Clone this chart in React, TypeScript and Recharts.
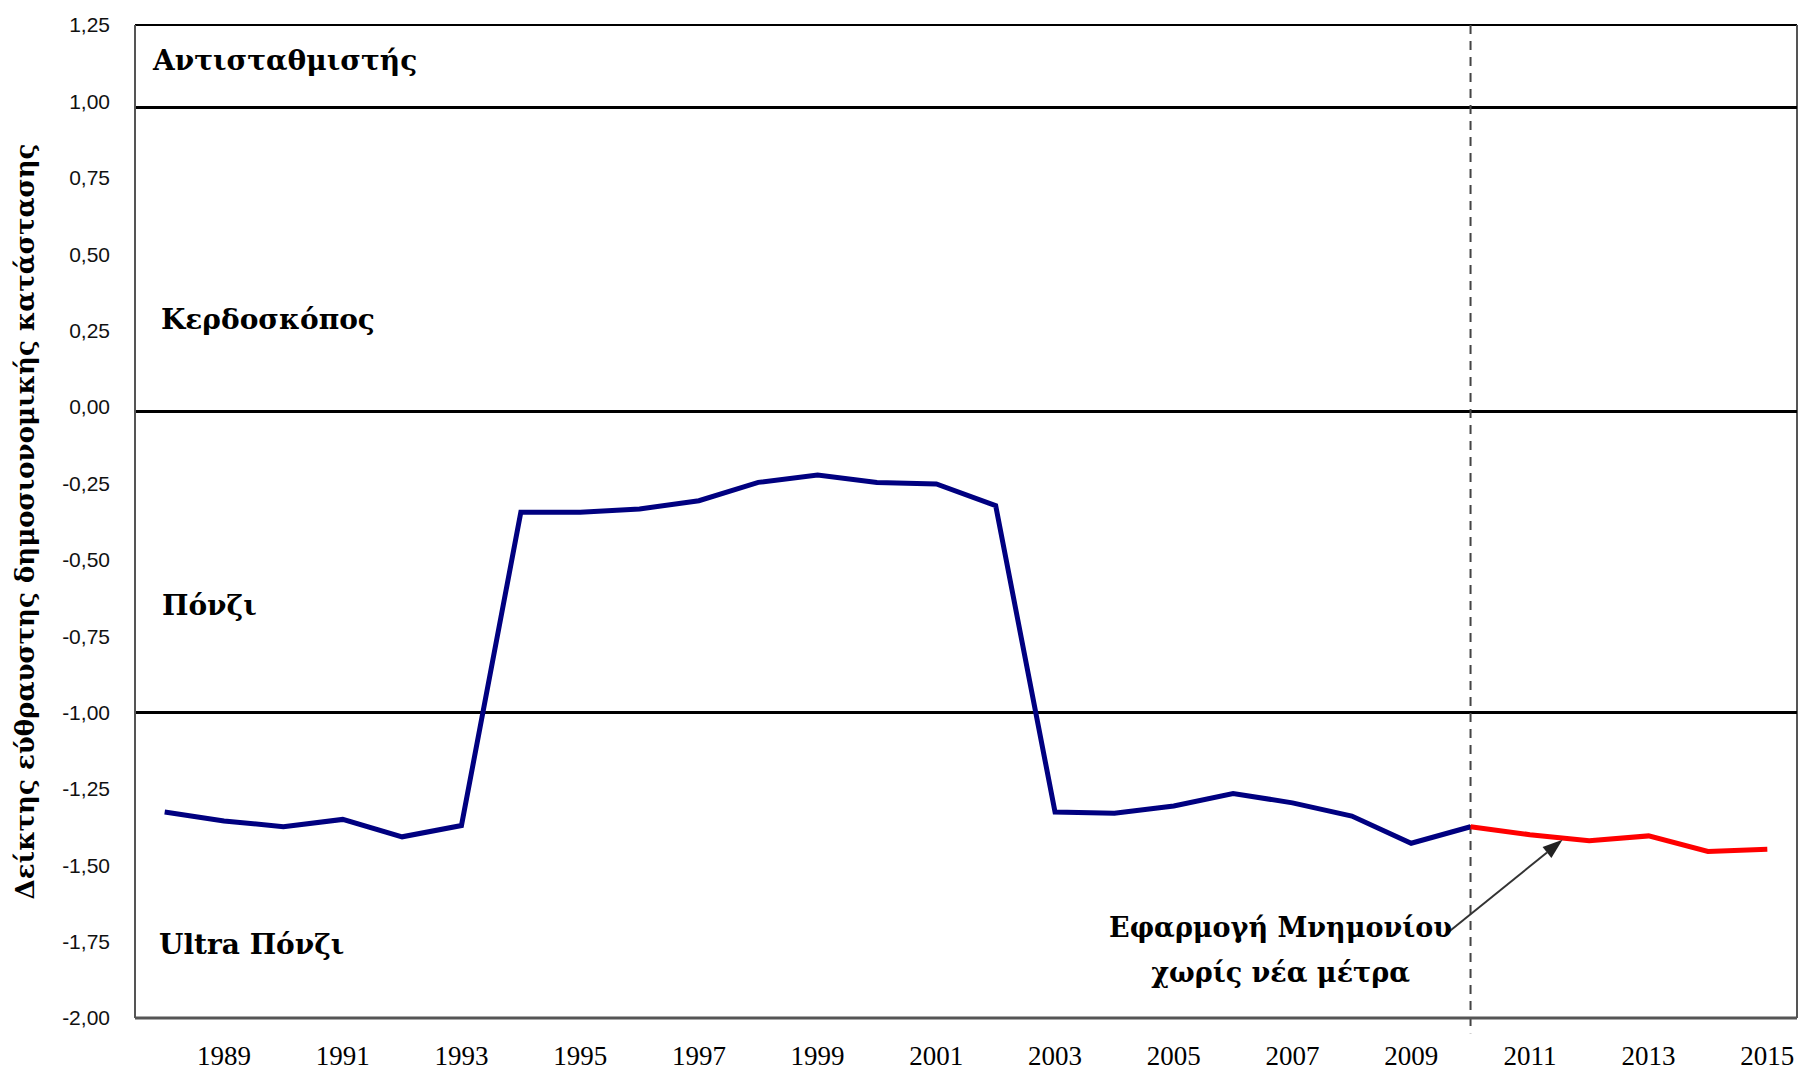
import React from "react"
import { LineChart, Line, XAxis, YAxis, ReferenceLine, ReferenceDot } from "recharts"

const years = [
  1988, 1989, 1990, 1991, 1992, 1993, 1994, 1995, 1996, 1997, 1998, 1999, 2000, 2001,
  2002, 2003, 2004, 2005, 2006, 2007, 2008, 2009, 2010, 2011, 2012, 2013, 2014, 2015
]
// 1988-2010
const actualIndex = [
  -1.326, -1.355, -1.374, -1.35, -1.407, -1.37, -0.345, -0.345, -0.334, -0.307, -0.247,
  -0.223, -0.247, -0.252, -0.323, -1.326, -1.33, -1.306, -1.265, -1.296, -1.339, -1.428,
  -1.374
]
// 2010-2015
const projectedIndex = [-1.374, -1.4, -1.42, -1.404, -1.455, -1.448]
const projectionStart = 2010

const xTicks = [1989, 1991, 1993, 1995, 1997, 1999, 2001, 2003, 2005, 2007, 2009, 2011, 2013, 2015]
const yTicks = [1.25, 1, 0.75, 0.5, 0.25, 0, -0.25, -0.5, -0.75, -1, -1.25, -1.5, -1.75, -2]

const thresholds = [0.98, -0.015, -1]
const regionNames = ["Αντισταθμιστής", "Κερδοσκόπος", "Πόνζι", "Ultra Πόνζι"]
const regionLabelY = [1.135, 0.288, -0.648, -1.757]
const regionIndent = [18, 26, 27, 24]

const yTitle = "Δείκτης εύθραυστης δημοσιονομικής κατάστασης"
const noteLines = ["Εφαρμογή Μνημονίου", "χωρίς νέα μέτρα"]
const noteX = 2006.8
const noteY = [-1.705, -1.852]
const arrowFrom = { x: 2009.64, y: -1.717 }
const arrowTo = { x: 2011.55, y: -1.417 }

const data = years.map((year, i) => ({
  year,
  actual: i < actualIndex.length ? actualIndex[i] : null,
  projected: year >= projectionStart ? projectedIndex[year - projectionStart] : null
}))

const serif = "'DejaVu Serif', serif"

const fmt = (v: number) => v.toFixed(2).replace(".", ",")

const YTitle = (props: any) => {
  const { viewBox } = props
  const cx = viewBox.x + 25
  const cy = viewBox.y + viewBox.height / 2
  return (
    <text
      x={cx}
      y={cy}
      transform={`rotate(-90 ${cx} ${cy})`}
      textAnchor="middle"
      dominantBaseline="central"
      fontFamily={serif}
      fontWeight="bold"
      fontSize={26}
      fill="#000"
    >
      {yTitle}
    </text>
  )
}

const Arrow = (props: any) => {
  const { x1, y1, x2, y2 } = props
  const a = Math.atan2(y2 - y1, x2 - x1)
  const len = 20
  const half = 7
  const bx = x2 - len * Math.cos(a)
  const by = y2 - len * Math.sin(a)
  const pts = [
    `${x2},${y2}`,
    `${bx + half * Math.sin(a)},${by - half * Math.cos(a)}`,
    `${bx - half * Math.sin(a)},${by + half * Math.cos(a)}`
  ].join(" ")
  return (
    <g>
      <line x1={x1} y1={y1} x2={bx} y2={by} stroke="#333" strokeWidth={2} />
      <polygon points={pts} fill="#222" />
    </g>
  )
}

const App = () => {
  return (
    <div style={{ width: 1800, height: 1082, background: "#fff" }}>
      <style>{"body{margin:0}"}</style>
      <LineChart width={1800} height={1082} data={data} margin={{ top: 25, right: 3, left: 0, bottom: 0 }}>
        <XAxis
          dataKey="year"
          type="number"
          domain={[1987.5, 2015.5]}
          ticks={xTicks}
          interval={0}
          height={64}
          tickLine={false}
          tickSize={0}
          tickMargin={28}
          axisLine={{ stroke: "#555", strokeWidth: 3 }}
          tick={{ fill: "#000", fontSize: 27, fontFamily: "'Liberation Serif', serif" }}
        />
        <YAxis
          type="number"
          domain={[-2, 1.25]}
          ticks={yTicks}
          interval={0}
          width={135}
          tickLine={false}
          tickSize={0}
          tickMargin={25}
          tickFormatter={fmt}
          axisLine={{ stroke: "#555", strokeWidth: 2 }}
          tick={{ fill: "#111", fontSize: 21, fontFamily: "'Liberation Sans', sans-serif" }}
          label={{ content: YTitle }}
        />
        <ReferenceLine y={1.25} stroke="#000" strokeWidth={2} />
        <ReferenceLine x={2015.5} stroke="#555" strokeWidth={2} />
        {thresholds.map((t) => (
          <ReferenceLine key={t} y={t} stroke="#000" strokeWidth={3} />
        ))}
        {regionNames.map((name, i) => (
          <ReferenceLine
            key={name}
            y={regionLabelY[i]}
            stroke="none"
            label={{
              value: name,
              position: "insideLeft",
              offset: regionIndent[i],
              fill: "#000",
              fontSize: 28,
              fontWeight: "bold",
              fontFamily: serif
            }}
          />
        ))}
        <ReferenceLine
          segment={[
            { x: projectionStart, y: 1.25 },
            { x: projectionStart, y: -2.05 }
          ]}
          ifOverflow="visible"
          stroke="#444"
          strokeWidth={2}
          strokeDasharray="9 7"
        />
        <Line
          type="linear"
          dataKey="actual"
          stroke="#000080"
          strokeWidth={5}
          dot={false}
          activeDot={false}
          connectNulls={false}
          isAnimationActive={false}
        />
        <Line
          type="linear"
          dataKey="projected"
          stroke="#ff0000"
          strokeWidth={5}
          dot={false}
          activeDot={false}
          connectNulls={false}
          isAnimationActive={false}
        />
        <ReferenceLine segment={[arrowFrom, arrowTo]} shape={Arrow} />
        {noteLines.map((line, i) => (
          <ReferenceDot
            key={line}
            x={noteX}
            y={noteY[i]}
            r={0}
            fill="none"
            stroke="none"
            label={{
              value: line,
              position: "center",
              fill: "#000",
              fontSize: 27,
              fontWeight: "bold",
              fontFamily: serif
            }}
          />
        ))}
      </LineChart>
    </div>
  )
}

export default App
